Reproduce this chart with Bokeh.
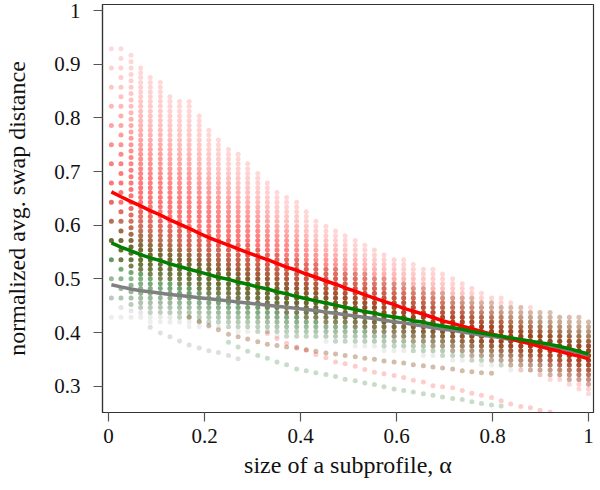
import math
from bokeh.plotting import figure
from bokeh.models import Range1d, FixedTicker, ColumnDataSource
from bokeh.embed import file_html
from bokeh.resources import INLINE

# ---- data ----
alpha_cols = [0.006, 0.026, 0.047, 0.067, 0.087, 0.108, 0.128, 0.148, 0.168, 0.189,
              0.209, 0.229, 0.250, 0.270, 0.290, 0.311, 0.331, 0.351, 0.371, 0.392,
              0.412, 0.432, 0.453, 0.473, 0.493, 0.514, 0.534, 0.554, 0.574, 0.595,
              0.615, 0.635, 0.656, 0.676, 0.696, 0.717, 0.737, 0.757, 0.777, 0.798,
              0.818, 0.838, 0.859, 0.879, 0.899, 0.920, 0.940, 0.960, 0.980, 1.000]

red_mean = [0.662, 0.653, 0.644, 0.636, 0.627, 0.619, 0.610, 0.602, 0.594, 0.585,
            0.577, 0.570, 0.563, 0.556, 0.549, 0.542, 0.536, 0.529, 0.522, 0.516,
            0.509, 0.503, 0.496, 0.490, 0.483, 0.477, 0.470, 0.464, 0.458, 0.452,
            0.445, 0.440, 0.434, 0.428, 0.422, 0.417, 0.412, 0.407, 0.402, 0.397,
            0.393, 0.388, 0.383, 0.379, 0.374, 0.369, 0.365, 0.360, 0.356, 0.351]
red_hi = [0.929, 0.929, 0.919, 0.896, 0.880, 0.871, 0.848, 0.835, 0.831, 0.806,
          0.780, 0.763, 0.748, 0.736, 0.720, 0.703, 0.683, 0.665, 0.652, 0.645,
          0.625, 0.610, 0.600, 0.590, 0.581, 0.573, 0.564, 0.558, 0.550, 0.544,
          0.536, 0.529, 0.522, 0.519, 0.512, 0.503, 0.496, 0.488, 0.475, 0.471,
          0.465, 0.458, 0.455, 0.449, 0.444, 0.441, 0.436, 0.433, 0.429, 0.426]
red_lo = [0.536, 0.527, 0.520, 0.513, 0.507, 0.500, 0.494, 0.488, 0.483, 0.477,
          0.472, 0.467, 0.462, 0.457, 0.452, 0.447, 0.443, 0.439, 0.435, 0.431,
          0.427, 0.423, 0.419, 0.415, 0.411, 0.407, 0.403, 0.399, 0.395, 0.391,
          0.387, 0.383, 0.379, 0.375, 0.371, 0.366, 0.361, 0.356, 0.351, 0.346,
          0.341, 0.335, 0.329, 0.323, 0.317, 0.311, 0.305, 0.299, 0.292, 0.285]

green_mean = [0.567, 0.559, 0.552, 0.545, 0.539, 0.534, 0.528, 0.523, 0.518, 0.513,
              0.508, 0.503, 0.499, 0.494, 0.490, 0.485, 0.481, 0.476, 0.472, 0.467,
              0.463, 0.459, 0.455, 0.451, 0.447, 0.443, 0.439, 0.436, 0.432, 0.429,
              0.426, 0.422, 0.419, 0.415, 0.412, 0.409, 0.406, 0.402, 0.399, 0.396,
              0.393, 0.390, 0.387, 0.384, 0.381, 0.378, 0.374, 0.370, 0.365, 0.360]
green_hi = [0.650, 0.640, 0.632, 0.625, 0.618, 0.612, 0.606, 0.600, 0.594, 0.589,
            0.584, 0.578, 0.573, 0.568, 0.563, 0.558, 0.553, 0.548, 0.543, 0.538,
            0.534, 0.529, 0.525, 0.521, 0.517, 0.513, 0.509, 0.505, 0.501, 0.497,
            0.493, 0.489, 0.485, 0.481, 0.477, 0.473, 0.469, 0.465, 0.461, 0.458,
            0.455, 0.451, 0.448, 0.445, 0.442, 0.439, 0.436, 0.433, 0.430, 0.427]
green_lo = [0.463, 0.455, 0.448, 0.442, 0.437, 0.433, 0.429, 0.425, 0.422, 0.419,
            0.416, 0.413, 0.410, 0.407, 0.404, 0.401, 0.398, 0.395, 0.392, 0.390,
            0.388, 0.386, 0.384, 0.383, 0.382, 0.380, 0.378, 0.376, 0.374, 0.372,
            0.369, 0.366, 0.363, 0.360, 0.357, 0.354, 0.351, 0.348, 0.345, 0.342,
            0.339, 0.335, 0.331, 0.327, 0.323, 0.319, 0.314, 0.309, 0.304, 0.300]

gray_mean = [0.489, 0.485, 0.481, 0.478, 0.476, 0.473, 0.471, 0.469, 0.467, 0.465,
             0.463, 0.461, 0.459, 0.457, 0.455, 0.453, 0.451, 0.449, 0.447, 0.445,
             0.443, 0.441, 0.438, 0.436, 0.433, 0.431, 0.428, 0.426, 0.423, 0.420,
             0.418, 0.415, 0.412, 0.409, 0.406, 0.404, 0.401, 0.398, 0.395, 0.393,
             0.390, 0.387, 0.384, 0.381, 0.378, 0.374, 0.371, 0.367, 0.362, 0.357]
gray_hi = [0.505, 0.502, 0.499, 0.497, 0.495, 0.493, 0.491, 0.489, 0.487, 0.485,
           0.483, 0.481, 0.479, 0.477, 0.475, 0.473, 0.471, 0.469, 0.467, 0.465,
           0.463, 0.461, 0.458, 0.456, 0.453, 0.451, 0.448, 0.446, 0.443, 0.440,
           0.438, 0.435, 0.432, 0.429, 0.426, 0.424, 0.421, 0.418, 0.415, 0.413,
           0.410, 0.407, 0.404, 0.401, 0.398, 0.394, 0.391, 0.387, 0.382, 0.377]
gray_lo = [0.425, 0.424, 0.422, 0.420, 0.418, 0.416, 0.414, 0.412, 0.410, 0.408,
           0.406, 0.404, 0.402, 0.400, 0.398, 0.396, 0.394, 0.392, 0.390, 0.388,
           0.386, 0.384, 0.381, 0.379, 0.376, 0.374, 0.371, 0.369, 0.366, 0.363,
           0.361, 0.358, 0.355, 0.352, 0.349, 0.347, 0.344, 0.341, 0.338, 0.336,
           0.333, 0.330, 0.327, 0.324, 0.321, 0.317, 0.314, 0.310, 0.305, 0.300]

# isolated tails of single profiles (start column, values)
tail_brown_start = 8
tail_brown = [0.429, 0.421, 0.413, 0.405, 0.397, 0.392, 0.388, 0.383, 0.378, 0.376,
              0.373, 0.371, 0.368, 0.365, 0.362, 0.360, 0.357, 0.355, 0.352, 0.350,
              0.347, 0.345, 0.343, 0.340, 0.338, 0.336, 0.334, 0.332, 0.329, 0.327,
              0.325, 0.324]
tail_red_start = 16
tail_red = [0.398, 0.389, 0.380, 0.373, 0.367, 0.359, 0.353, 0.345, 0.342, 0.337,
            0.331, 0.326, 0.323, 0.320, 0.316, 0.311, 0.308, 0.301, 0.299, 0.297,
            0.292, 0.287, 0.283, 0.279, 0.273, 0.267, 0.262, 0.260, 0.255, 0.252]
tail_green_start = 12
tail_green = [0.382, 0.373, 0.365, 0.357, 0.352, 0.345, 0.340, 0.332, 0.329, 0.325,
              0.322, 0.318, 0.313, 0.310, 0.306, 0.303, 0.299, 0.295, 0.292, 0.289,
              0.286, 0.283, 0.280, 0.277, 0.275, 0.271, 0.268, 0.265, 0.263]
tail_gray_start = 4
tail_gray = [0.410, 0.399, 0.392, 0.384, 0.377, 0.371, 0.366, 0.363, 0.357, 0.351]

x_ticks = [0, 0.2, 0.4, 0.6, 0.8, 1]
x_tick_labels = ["0", "0.2", "0.4", "0.6", "0.8", "1"]
y_ticks = [0.3, 0.4, 0.5, 0.6, 0.7, 0.8, 0.9, 1.0]
y_tick_labels = ["0.3", "0.4", "0.5", "0.6", "0.7", "0.8", "0.9", "1"]

FONT = "Liberation Serif"

p = figure(width=600, height=490, output_backend="svg", toolbar_location=None,
           x_range=Range1d(-0.0125, 1.0104), y_range=Range1d(0.2510, 1.0112),
           min_border_left=102, min_border_right=7, min_border_top=4, min_border_bottom=78)
p.background_fill_color = "white"
p.border_fill_color = "white"
p.grid.visible = False
p.outline_line_color = "#333333"
p.outline_line_width = 1.2


def cloud(mean, hi, lo, amin, amax, width):
    xs, ys, al = [], [], []
    for c, xv in enumerate(alpha_cols):
        step = 1.0 / (28 * min(c + 1, 4))
        n0 = math.ceil(lo[c] / step - 1e-9)
        n1 = math.floor(hi[c] / step + 1e-9)
        for n in range(n0, n1 + 1):
            y = n * step
            m = mean[c]
            if y >= m:
                s = max((hi[c] - m) / width, 1e-4)
            else:
                s = max((m - lo[c]) / width, 1e-4)
            z = (y - m) / s
            xs.append(xv)
            ys.append(y)
            al.append(amin + (amax - amin) * math.exp(-0.5 * z * z))
    return ColumnDataSource(dict(x=xs, y=ys, a=al))


for (mean, hi, lo, col, amin, amax, w) in [
        (gray_mean, gray_hi, gray_lo, "#8c8c8c", 0.12, 0.35, 2.0),
        (green_mean, green_hi, green_lo, "#006400", 0.10, 0.75, 2.2),
        (red_mean, red_hi, red_lo, "#ff0000", 0.12, 0.55, 2.3)]:
    src = cloud(mean, hi, lo, amin, amax, w)
    p.scatter("x", "y", source=src, size=5, marker="circle",
              fill_color=col, fill_alpha="a", line_color=None)

for (start, vals, col, a) in [(tail_brown_start, tail_brown, "#8b5a2b", 0.4),
                              (tail_red_start, tail_red, "#ff0000", 0.2),
                              (tail_green_start, tail_green, "#006400", 0.22),
                              (tail_gray_start, tail_gray, "#808080", 0.25)]:
    p.scatter(alpha_cols[start:start + len(vals)], vals, size=5, marker="circle",
              fill_color=col, fill_alpha=a, line_color=None)

p.line(alpha_cols, gray_mean, line_color="#808080", line_width=3.5)
p.line(alpha_cols, red_mean, line_color="#ff0000", line_width=3.5)
p.line(alpha_cols, green_mean, line_color="#008000", line_width=3.5)

for ax, ticks, labels in [(p.xaxis[0], x_ticks, x_tick_labels), (p.yaxis[0], y_ticks, y_tick_labels)]:
    ax.ticker = FixedTicker(ticks=ticks)
    ax.major_label_overrides = {t: l for t, l in zip(ticks, labels)}
    ax.minor_tick_line_color = None
    ax.major_tick_in = 0
    ax.major_tick_out = 9
    ax.major_tick_line_color = "#555555"
    ax.major_tick_line_width = 1.2
    ax.axis_line_color = "#333333"
    ax.axis_line_width = 1.2
    ax.major_label_text_font = FONT
    ax.major_label_text_font_size = "21px"
    ax.major_label_text_color = "#111111"
    ax.axis_label_text_font = FONT
    ax.axis_label_text_font_size = "24px"
    ax.axis_label_text_font_style = "normal"
    ax.axis_label_text_color = "#111111"

p.xaxis.axis_label = "size of a subprofile, α"
p.yaxis.axis_label = "normalized avg. swap distance"
p.xaxis.major_label_standoff = 7
p.yaxis.major_label_standoff = 13
p.xaxis.axis_label_standoff = 6
p.yaxis.axis_label_standoff = 21

open("out.html", "w").write(file_html(p, INLINE))
